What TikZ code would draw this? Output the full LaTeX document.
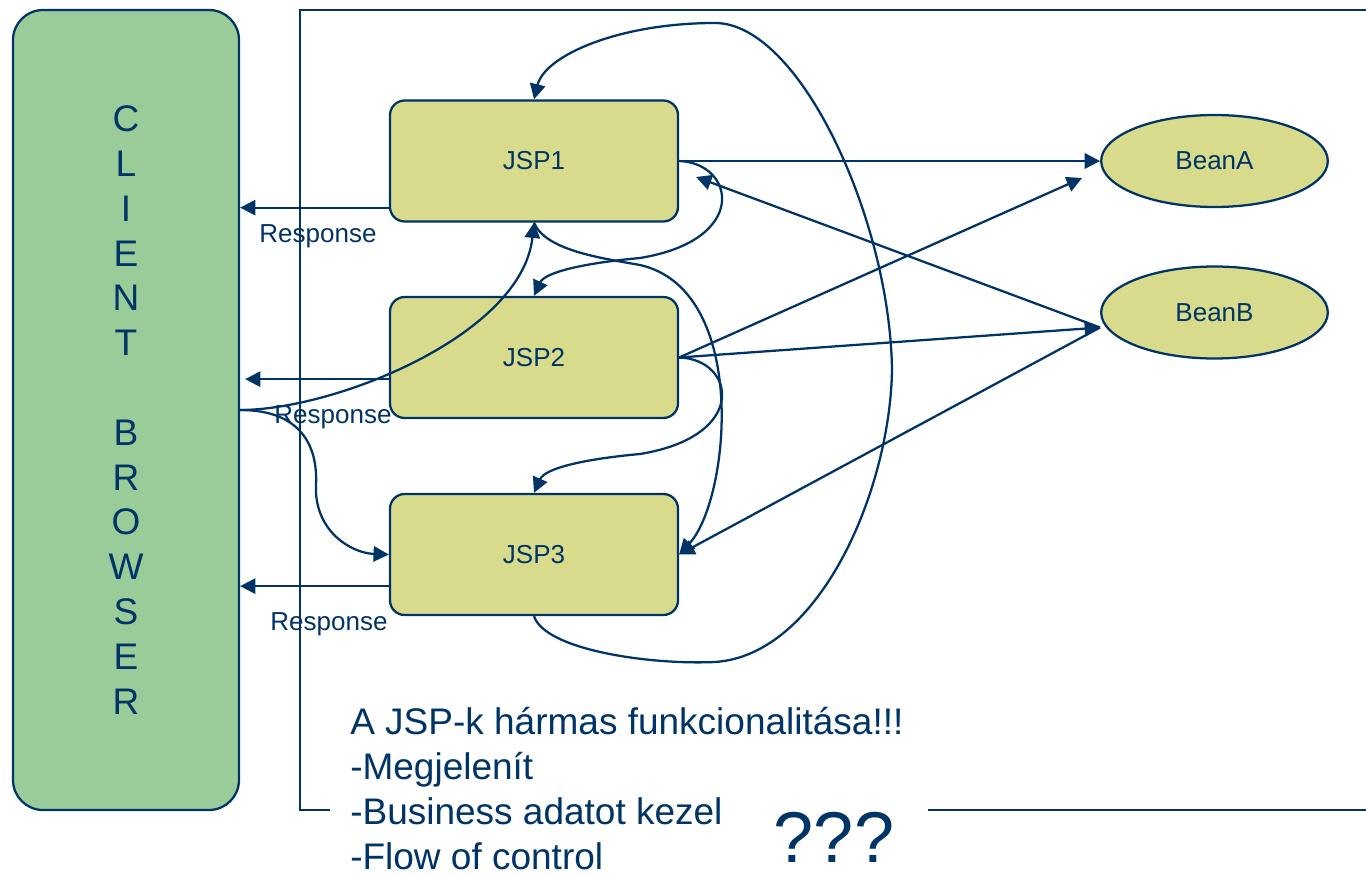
\documentclass[tikz,border=0pt]{standalone}
\usepackage{fontspec}
\setmainfont{Liberation Sans}
\usetikzlibrary{arrows.meta,shapes.geometric,calc}
\definecolor{navy}{RGB}{0,51,102}
\definecolor{clientgreen}{RGB}{153,204,153}
\definecolor{jspyellow}{RGB}{215,219,139}

\begin{document}
\begin{tikzpicture}[x=0.75pt,y=0.75pt,yscale=-1,xscale=1,
	flow/.style={draw=navy,line width=1.7pt,-{Triangle[length=11.5pt,width=11.5pt]}},
	jsp/.style={draw=navy,line width=1.7pt,fill=jspyellow,rounded corners=11pt,minimum width=216pt,minimum height=90.75pt,text=navy,font=\fontsize{19.5}{23}\selectfont},
	bean/.style={ellipse,draw=navy,line width=1.7pt,fill=jspyellow,minimum width=170pt,minimum height=69pt,inner sep=0pt,text=navy,font=\fontsize{19.5}{23}\selectfont},
	resp/.style={text=navy,font=\fontsize{19.5}{23}\selectfont}]
	\useasboundingbox (0,0) rectangle (1366,874);
	\draw[navy,line width=1.7pt] (1370,10) -- (300,10) -- (300,810) -- (330,810) (928,810) -- (1370,810);
	\node[draw=navy,line width=1.7pt,fill=clientgreen,rounded corners=22.5pt,minimum width=169.5pt,minimum height=600pt,text=navy,align=center,font=\fontsize{27.75}{33.6}\selectfont] (client) at (126,410) {C\\L\\I\\E\\N\\T\\[33.6pt]B\\R\\O\\W\\S\\E\\R};
	\node[jsp] (jsp1) at (534,161) {JSP1};
	\node[jsp] (jsp2) at (534,357.5) {JSP2};
	\node[jsp] (jsp3) at (534,554.5) {JSP3};
	\node[bean] (beanA) at (1214.5,161) {BeanA};
	\node[bean] (beanB) at (1214.5,312.5) {BeanB};
	\coordinate (r1) at ($(jsp1.south west)+(0,-15)$);
	\coordinate (r2) at ($(jsp2.south west)+(0,-40)$);
	\coordinate (r3) at ($(jsp3.south west)+(0,-30)$);
	\coordinate (bHub) at ($(beanB.west)+(0,15)$);
	\coordinate (j1in) at ($(jsp1.east)+(17,16)$);
	\coordinate (aIn) at ($(beanA.west)+(-18,17)$);
	\draw[flow] (r1) -- (client.east |- r1);
	\draw[flow] (r2) -- ($(client.east |- r2)+(5,0)$);
	\draw[flow] (r3) -- (client.east |- r3);
	\node[resp] (resp1) at (318,236) {Response};
	\node[resp] (resp2) at (333,417) {Response};
	\node[resp] (resp3) at (329,624) {Response};
	\draw[flow] (client.east) .. controls (335,410) and (522,335) .. (jsp1.south);
	\draw[flow] (client.east) .. controls (300,410) and (318,445) .. (316,485) .. controls (314,530) and (350,553) .. (jsp3.west);
	\draw[flow] (jsp1.east) -- (beanA.west);
	\draw[flow] (bHub) -- (j1in);
	\draw[flow] (jsp2.east) -- (aIn);
	\draw[flow] (jsp2.east) -- (bHub);
	\draw[flow] (bHub) -- (jsp3.east);
	\draw[flow] (jsp1.east) .. controls (735,163) and (750,240) .. (640,258) .. controls (585,263) and (545,272) .. (jsp2.north);
	\draw[flow] (jsp2.east) .. controls (735,359) and (750,436) .. (640,454) .. controls (585,459) and (545,468) .. (jsp3.north);
	\draw[flow] (jsp1.south) .. controls (545,250) and (600,258) .. (640,265) .. controls (750,290) and (730,500) .. (jsp3.east);
	\draw[flow] (jsp3.south) .. controls (545,650) and (650,665) .. (715,662) .. controls (820,655) and (890,490) .. (892,370) .. controls (890,220) and (800,23) .. (715,23) .. controls (620,23) and (545,55) .. (jsp1.north);
	\node[text=navy,font=\fontsize{27.75}{33.75}\selectfont,align=left,anchor=north west,inner sep=0pt] (note) at (350,707) {A JSP-k hármas funkcionalitása!!!\\-Megjelenít\\-Business adatot kezel\\-Flow of control};
	\node[text=navy,font=\fontsize{54}{60}\selectfont,inner sep=0pt] (qmarks) at (834,837) {???};
\end{tikzpicture}
\end{document}
